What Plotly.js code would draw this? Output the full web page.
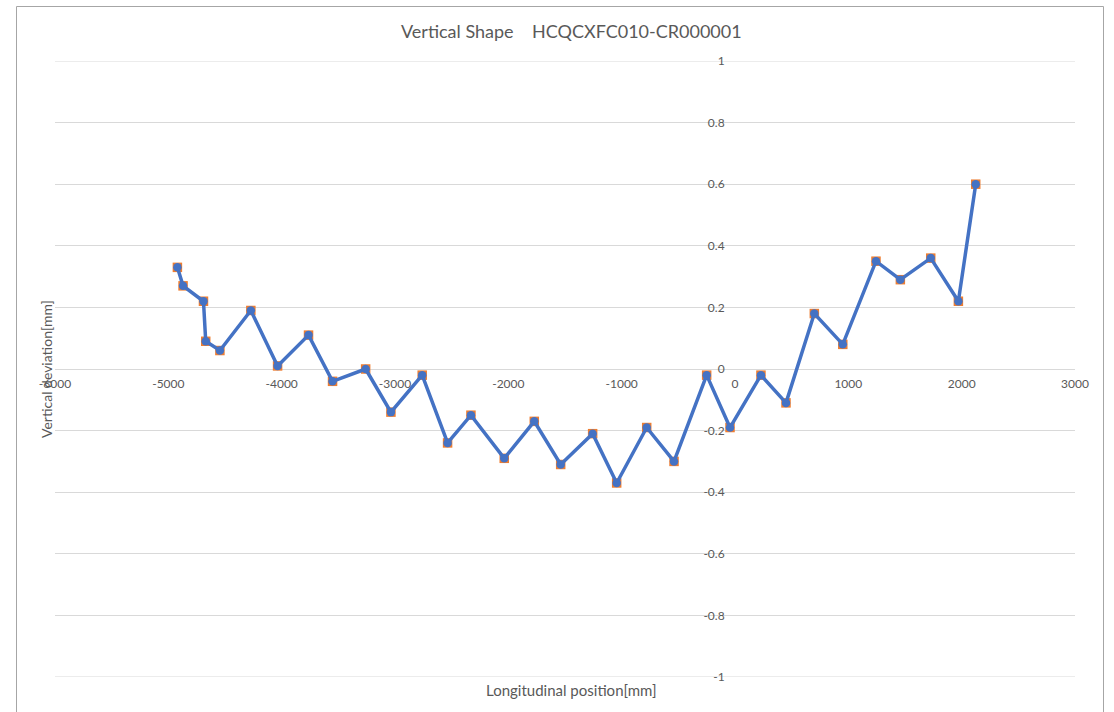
<!DOCTYPE html>
<html>
<head>
<meta charset="utf-8">
<script src="https://cdn.plot.ly/plotly-3.0.1.min.js"></script>
<style>
  html, body { margin: 0; padding: 0; background: #fff; }
  #chart { width: 1114px; height: 712px; }
</style>
</head>
<body>
<div id="chart"></div>
<script>
// Data
var positionMm = [-4920, -4870, -4690, -4670, -4545, -4272, -4036, -3763, -3551, -3259,
                  -3036, -2760, -2536, -2330, -2036, -1771, -1538, -1256, -1044, -779,
                  -538, -250, -44, 229, 450, 700, 951, 1244, 1459, 1727, 1971, 2124];
var deviationMm = [0.33, 0.27, 0.22, 0.09, 0.06, 0.19, 0.01, 0.11, -0.04, 0.00,
                   -0.14, -0.02, -0.24, -0.15, -0.29, -0.17, -0.31, -0.21, -0.37, -0.19,
                   -0.30, -0.02, -0.19, -0.02, -0.11, 0.18, 0.08, 0.35, 0.29, 0.36,
                   0.22, 0.60];
var xTicks = [-6000, -5000, -4000, -3000, -2000, -1000, 0, 1000, 2000, 3000];
var yTicks = [-1, -0.8, -0.6, -0.4, -0.2, 0, 0.2, 0.4, 0.6, 0.8, 1];
var chartTitle = "Vertical Shape\u00a0\u00a0\u00a0\u00a0HCQCXFC010-CR000001";
var xTitle = "Longitudinal position[mm]";
var yTitle = "Vertical deviation[mm]";

var FONT = "Lato, 'Open Sans', sans-serif";
var GRAY = "#595959";
var GRID = "#d9d9d9";

var traces = [
  {
    x: positionMm, y: deviationMm, type: "scatter", mode: "markers",
    marker: { symbol: "square", size: 9.5, color: "#ED7D31", line: { width: 0 } },
    hoverinfo: "x+y", showlegend: false, cliponaxis: false
  },
  {
    x: positionMm, y: deviationMm, type: "scatter", mode: "lines+markers",
    line: { color: "#4472C4", width: 3.5 },
    marker: { symbol: "circle", size: 8.5, color: "#4472C4" },
    hoverinfo: "x+y", showlegend: false, cliponaxis: false
  }
];

// gridlines at the range edges (Plotly does not draw them there)
var edgeLines = [yTicks[0], yTicks[yTicks.length - 1]].map(function (v) {
  return { type: "line", xref: "paper", yref: "y", x0: 0, x1: 1, y0: v, y1: v,
           layer: "below", line: { color: GRID, width: 1 } };
});

var layout = {
  width: 1114, height: 712,
  margin: { l: 55, r: 39, t: 61, b: 35 },
  paper_bgcolor: "#ffffff", plot_bgcolor: "#ffffff",
  font: { family: FONT, color: GRAY, size: 12 },
  showlegend: false,
  xaxis: {
    range: [-6000, 3000], tickvals: xTicks, ticktext: xTicks.map(String),
    showgrid: false, zeroline: false, showline: false,
    anchor: "free", position: 0.5,
    ticks: "outside", ticklen: 4, tickcolor: "rgba(0,0,0,0)",
    tickfont: { family: FONT, color: GRAY, size: 12 }
  },
  yaxis: {
    range: [-1, 1], tickvals: yTicks, ticktext: yTicks.map(String),
    showgrid: true, gridcolor: GRID, gridwidth: 1,
    zeroline: false, showline: false,
    anchor: "free", position: 0.6667,
    ticks: "outside", ticklen: 8, tickcolor: "rgba(0,0,0,0)",
    tickfont: { family: FONT, color: GRAY, size: 12 }
  },
  annotations: [
    { text: chartTitle, xref: "paper", yref: "paper",
      x: (571 - 55) / 1020, y: 1 + (61 - 31) / 616, xanchor: "center", yanchor: "middle",
      showarrow: false, font: { family: FONT, size: 18, color: GRAY } },
    { text: xTitle, xref: "paper", yref: "paper",
      x: (571 - 55) / 1020, y: -(690 - 677) / 616, xanchor: "center", yanchor: "middle",
      showarrow: false, font: { family: FONT, size: 15, color: GRAY } },
    { text: yTitle, xref: "paper", yref: "paper", textangle: -90,
      x: (46 - 55) / 1020, y: (677 - 369) / 616, xanchor: "center", yanchor: "middle",
      showarrow: false, font: { family: FONT, size: 14, color: GRAY } }
  ],
  shapes: edgeLines.concat([
    { type: "rect", xref: "paper", yref: "paper", layer: "below",
      x0: (16.5 - 55) / 1020, x1: (1103.5 - 55) / 1020,
      y0: -0.2, y1: 1 + (61 - 6.5) / 616,
      line: { color: "#A6A6A6", width: 1 }, fillcolor: "rgba(0,0,0,0)" }
  ])
};

Plotly.newPlot("chart", traces, layout, { displayModeBar: false, staticPlot: true });
</script>
</body>
</html>
